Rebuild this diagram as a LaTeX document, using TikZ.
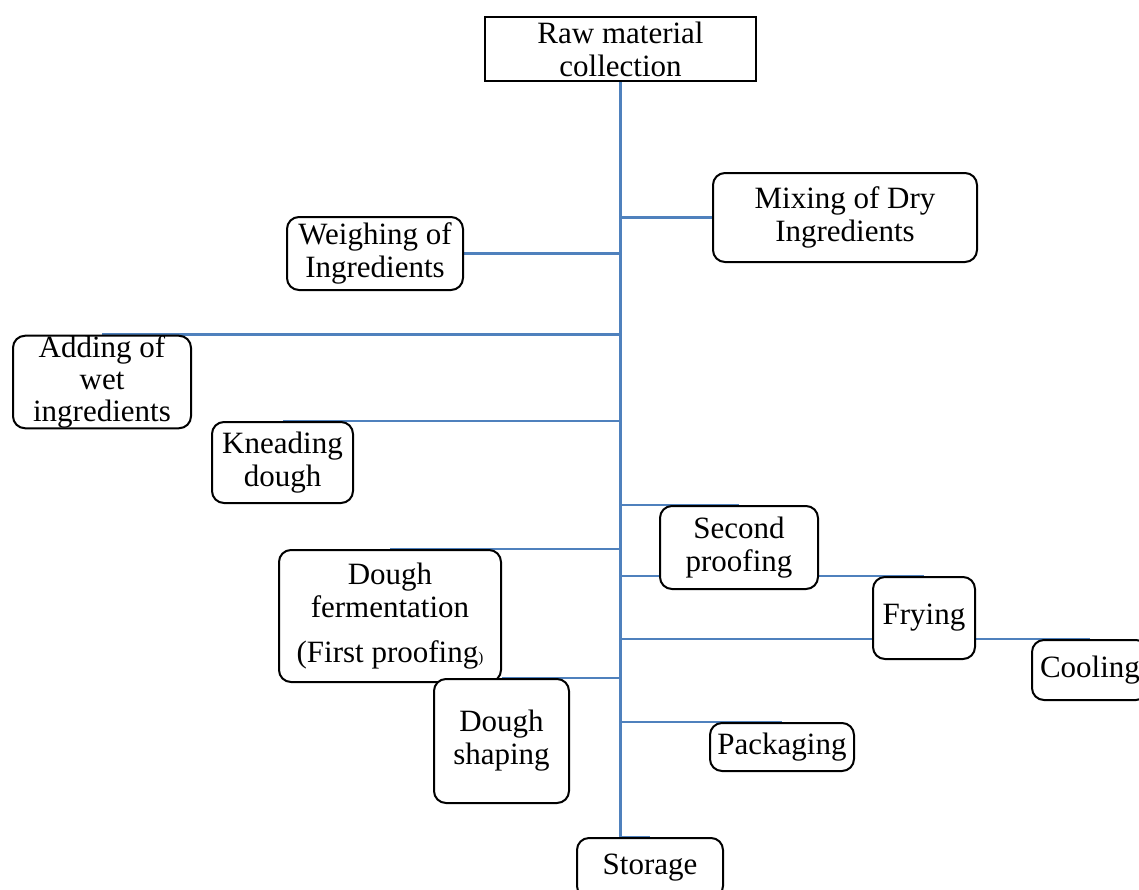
\documentclass[tikz,border=0pt]{standalone}
\usepackage{fontspec}
\setmainfont{Liberation Serif}
\usetikzlibrary{backgrounds}
\definecolor{linkblue}{RGB}{79,129,189}
\tikzset{
  box/.style={draw=black, line width=2pt, fill=white, rounded corners=12pt, inner sep=0pt, align=center,
              font=\fontsize{31}{33}\selectfont},
  sharpbox/.style={box, rounded corners=0pt},
  link/.style={draw=linkblue, line width=2.6pt}
}
\begin{document}
\begin{tikzpicture}[x=1pt,y=-1pt]
\useasboundingbox (0,0) rectangle (1139,889);

\node[sharpbox, minimum width=271pt, minimum height=64pt] (raw) at (620.5,49) {Raw material\\collection};
\node[box, minimum width=264pt, minimum height=89pt] (mix) at (845,217.5) {Mixing of Dry\\Ingredients};
\node[box, minimum width=176pt, minimum height=73pt] (weigh) at (375,253.5) {Weighing of\\Ingredients};
\node[box, minimum width=178pt, minimum height=90pt, font=\fontsize{31}{32}\selectfont] (adding) at (102,382) {Adding of\\wet\\ingredients};
\node[box, minimum width=141pt, minimum height=81pt] (knead) at (282.5,462.5) {Kneading\\dough};
\node[box, minimum width=222pt, minimum height=132pt] (ferm) at (390,616) {Dough\\fermentation\\[12pt](First proofing{\fontsize{15}{15}\selectfont)}};
\node[box, minimum width=135pt, minimum height=124pt] (shape) at (501.5,741) {Dough\\shaping};
\node[box, minimum width=158pt, minimum height=83pt] (second) at (739,547.5) {Second\\proofing};
\node[box, minimum width=102pt, minimum height=82pt] (frying) at (924,618) {Frying};
\node[box, minimum width=116pt, minimum height=60pt] (cooling) at (1090,670) {Cooling};
\node[box, minimum width=144pt, minimum height=48pt] (pack) at (782,747) {Packaging};
\node[box, minimum width=146pt, minimum height=60pt] (storage) at (650,868) {Storage};

\begin{scope}[on background layer]
\fill[white] (0,0) rectangle (1139,889);
\draw[link] (raw.south) |- (storage.north);
\draw[link] (raw.south |- mix.west) -- (mix.west);
\draw[link] (raw.south |- weigh.east) -- (weigh.east);
\draw[link] (raw.south |- adding.north) -- (adding.north);
\draw[link] (raw.south |- knead.north) -- (knead.north);
\draw[link] (raw.south |- ferm.north) -- (ferm.north);
\draw[link] (raw.south |- shape.north) -- (shape.north);
\draw[link] (raw.south |- second.north) -- (second.north);
\draw[link] (raw.south |- frying.north) -- (frying.north);
\draw[link] (raw.south |- cooling.north) -- (cooling.north);
\draw[link] (raw.south |- pack.north) -- (pack.north);
\end{scope}
\end{tikzpicture}
\end{document}
